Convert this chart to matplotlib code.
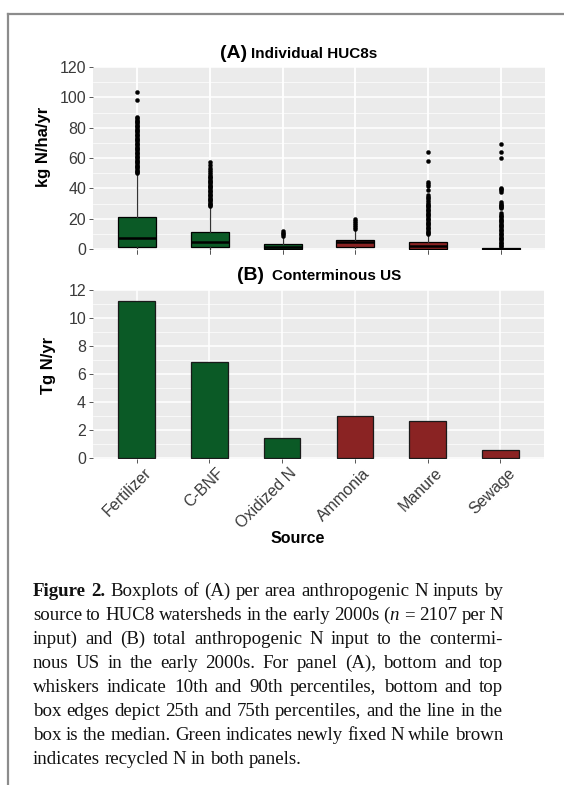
import numpy as np
import matplotlib
matplotlib.use("Agg")
import matplotlib.pyplot as plt
import matplotlib.transforms as mtransforms
from matplotlib.lines import Line2D
from matplotlib.ticker import MultipleLocator

plt.rcParams['font.family'] = ['Liberation Sans', 'DejaVu Sans']
plt.rcParams['mathtext.fontset'] = 'custom'
plt.rcParams['mathtext.rm'] = 'Liberation Serif'
plt.rcParams['mathtext.it'] = 'Liberation Serif:italic'

sources = ['Fertilizer', 'C-BNF', 'Oxidized N', 'Ammonia', 'Manure', 'Sewage']
fixed_new = [True, True, True, False, False, False]

# (A) per-HUC8 box statistics, kg N/ha/yr
q1 = [1.5, 1.2, 0.3, 1.5, 0.3, 0.05]
med = [7.0, 4.4, 1.5, 4.4, 2.1, 0.2]
q3 = [21.0, 11.5, 3.3, 5.9, 4.4, 0.7]
whislo = [0.4, 0.3, 0.1, 0.6, 0.05, 0.0]
whishi = [49.4, 27.9, 7.6, 12.8, 9.2, 1.5]

fliers_fert = [103.8, 98.2, 86.8, 86.1, 85.3, 84.5, 83.6, 82.8, 81.9, 81.1, 80.2,
               79.4, 78.6, 77.7, 76.9, 76.0, 75.2, 74.3, 73.5, 72.6, 71.8, 70.9,
               70.1, 69.2, 68.4, 67.5, 66.7, 65.8, 65.0, 64.1, 63.3, 62.4, 61.6,
               60.7, 59.9, 59.0, 58.2, 57.3, 56.5, 55.6, 54.8, 53.9, 53.1, 52.2,
               51.4, 50.6, 49.8]
fliers_cbnf = [57.5, 55.6, 53.7, 52.0, 50.5, 49.2, 48.4, 47.5, 46.7, 45.8, 45.0,
               44.1, 43.3, 42.4, 41.6, 40.7, 39.9, 39.0, 38.2, 37.3, 36.5, 35.6,
               34.8, 33.9, 33.1, 32.2, 31.4, 30.5, 29.7, 28.8, 28.1]
fliers_oxn = [11.9, 10.8, 9.6, 8.5]
fliers_amm = [19.6, 18.3, 16.9, 15.5, 14.2, 13.2]
fliers_man = [63.7, 57.8, 44.0, 43.0, 41.8, 38.9, 35.6, 34.5, 33.4, 32.3, 30.8,
              30.0, 29.1, 28.3, 27.4, 26.6, 25.7, 24.9, 24.0, 23.2, 22.3, 21.5,
              20.6, 19.8, 18.9, 18.1, 17.2, 16.4, 15.5, 14.7, 13.8, 13.0, 12.1,
              11.3, 10.4, 9.6]
fliers_sew = [69.0, 63.7, 60.0, 40.4, 39.5, 38.6, 37.8, 30.8, 30.0, 29.2, 28.3,
              27.5, 26.8, 23.5, 22.7, 21.8, 21.0, 20.1, 19.3, 18.4, 17.6, 16.7,
              15.9, 15.0, 14.2, 13.3, 12.5, 11.6, 10.8, 9.9, 9.1, 8.2, 7.4, 6.5,
              5.7, 4.8, 4.0, 3.1, 2.3, 1.7]
fliers = [fliers_fert, fliers_cbnf, fliers_oxn, fliers_amm, fliers_man, fliers_sew]

# (B) contiguous US totals, Tg N/yr
totals = [11.2, 6.83, 1.38, 3.0, 2.65, 0.55]

caption_lines = [
    "*Figure *2. Boxplots of (A) per area anthropogenic N inputs by",
    "source to HUC8 watersheds in the early 2000s ($n$ = 2107 per N",
    "input) and (B) total anthropogenic N input to the contermi-",
    "nous US in the early 2000s. For panel (A), bottom and top",
    "whiskers indicate 10th and 90th percentiles, bottom and top",
    "box edges depict 25th and 75th percentiles, and the line in the",
    "box is the median. Green indicates newly fixed N while brown",
    "indicates recycled N in both panels.",
]

GREEN = '#0b5a26'
BROWN = '#8a2323'
colors = [GREEN if f else BROWN for f in fixed_new]

W, H = 564, 785
fig = plt.figure(figsize=(W / 100, H / 100), dpi=100)


def px_axes(left, top, right, bottom):
    return fig.add_axes([left / W, 1 - bottom / H, (right - left) / W, (bottom - top) / H])


def gg_style(ax, major, minor):
    ax.set_facecolor('#ebebeb')
    for s in ax.spines.values():
        s.set_visible(False)
    ax.yaxis.set_major_locator(MultipleLocator(major))
    ax.yaxis.set_minor_locator(MultipleLocator(minor))
    ax.grid(True, which='major', color='white', lw=1.1)
    ax.grid(True, which='minor', axis='y', color='white', lw=0.5)
    ax.set_axisbelow(True)
    ax.tick_params(which='major', length=3, width=0.7, color='#555555',
                   labelsize=11.5, labelcolor='#3a3a3a', pad=2)
    ax.tick_params(which='minor', length=0)
    ax.set_xlim(0.4, 6.6)
    ax.set_xticks(range(1, 7))


pos = np.arange(1, 7)

# panel A: boxplots
ax1 = px_axes(93, 66.5, 545, 250.4)
gg_style(ax1, 20, 10)
stats = []
for i in range(6):
    stats.append(dict(med=med[i], q1=q1[i], q3=q3[i], whislo=whislo[i],
                      whishi=whishi[i], fliers=fliers[i]))
bp = ax1.bxp(stats, positions=pos, widths=0.52, patch_artist=True, showcaps=False,
             boxprops=dict(edgecolor='black', lw=0.9),
             medianprops=dict(color='black', lw=1.8),
             whiskerprops=dict(color='#333333', lw=0.9),
             flierprops=dict(marker='o', markersize=2.9, markerfacecolor='black',
                             markeredgecolor='black', markeredgewidth=0.3))
for patch, c in zip(bp['boxes'], colors):
    patch.set_facecolor(c)
ax1.set_ylim(-0.92, 120.33)
ax1.set_xticklabels([])

# panel B: totals
ax2 = px_axes(93, 290, 544, 458.5)
gg_style(ax2, 2, 1)
ax2.bar(pos, totals, width=0.5, color=colors, edgecolor='#1a1a1a', lw=0.9)
ax2.set_ylim(-0.057, 12.0)
ax2.set_xticklabels(sources, rotation=45, ha='right', va='top', rotation_mode='anchor')
shift = mtransforms.ScaledTranslation(7 / 100, 0, fig.dpi_scale_trans)
for lbl in ax2.get_xticklabels():
    lbl.set_transform(lbl.get_transform() + shift)

# titles and axis titles in pixel positions
def ftxt(x, y, s, **kw):
    return fig.text(x / W, 1 - y / H, s, **kw)

ftxt(220, 57.5, '(A)', fontsize=14, fontweight='bold', va='baseline')
ftxt(251, 57.5, 'Individual HUC8s', fontsize=11, fontweight='bold', va='baseline')
ftxt(236.5, 280.5, '(B)', fontsize=14, fontweight='bold', va='baseline')
ftxt(272, 280.5, 'Conterminous US', fontsize=11, fontweight='bold', va='baseline')
ftxt(43.5, 147, 'kg N/ha/yr', fontsize=12, fontweight='bold', rotation=90,
     ha='center', va='center')
ftxt(48.5, 365, 'Tg N/yr', fontsize=12, fontweight='bold', rotation=90,
     ha='center', va='center')
ftxt(298, 543, 'Source', fontsize=11.5, fontweight='bold', ha='center', va='baseline')

# frame around the figure
fig.add_artist(Line2D([8 / W, 8 / W], [0, 1 - 14 / H], transform=fig.transFigure,
                      color='#8c8c8c', lw=1.6))
fig.add_artist(Line2D([8 / W, 1], [1 - 14 / H, 1 - 14 / H], transform=fig.transFigure,
                      color='#8c8c8c', lw=1.6))

# justified caption
renderer = fig.canvas.get_renderer()
x0, x1 = 33, 503
for i, line in enumerate(caption_lines):
    base = 596 + 24 * i
    words = line.split(' ')
    items = []
    for w in words:
        bold = w.startswith('*')
        t = fig.text(0, 0, w.lstrip('*'), fontfamily='Liberation Serif', fontsize=13.6,
                     fontweight='bold' if bold else 'normal', va='baseline', ha='left',
                     color='#111111')
        items.append(t)
    widths = [t.get_window_extent(renderer).width for t in items]
    if i < len(caption_lines) - 1:
        gap = (x1 - x0 - sum(widths)) / (len(items) - 1)
    else:
        gap = 4.5
    x = x0
    for t, wd in zip(items, widths):
        t.set_position((x / W, 1 - base / H))
        x += wd + gap

fig.savefig('out.png', dpi=100)
